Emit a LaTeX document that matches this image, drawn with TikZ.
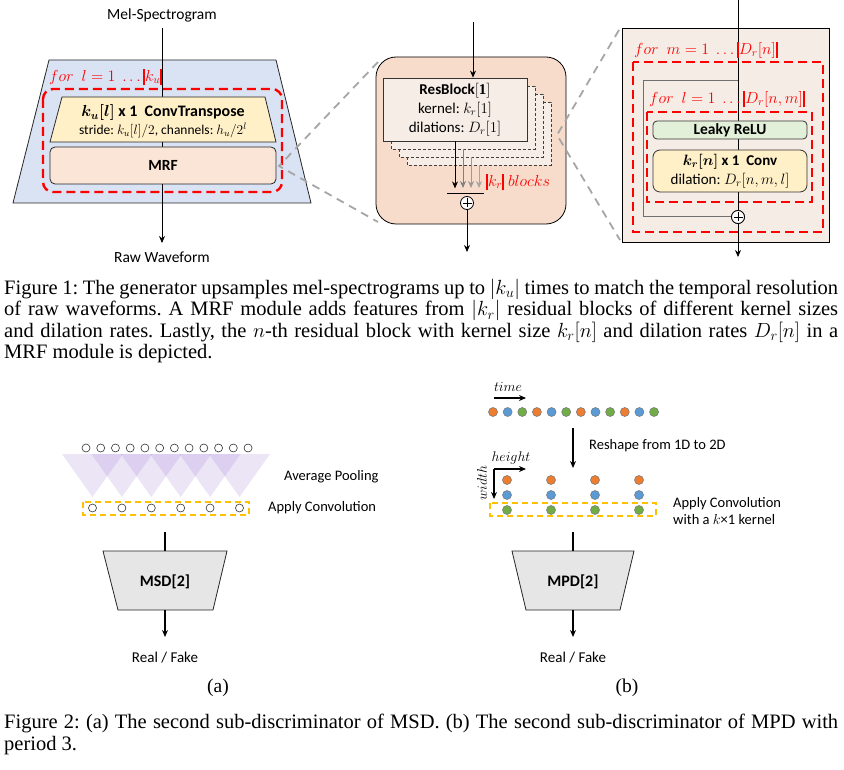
\RequirePackage{fix-cm}
\documentclass[tikz,border=0pt]{standalone}
\usepackage{amsmath}
\usepackage{fontspec}
\setmainfont{Liberation Serif}
\newfontfamily\calfont{Carlito}
\usetikzlibrary{arrows.meta}
\definecolor{gblue}{HTML}{DAE3F3}
\definecolor{gyel}{HTML}{FFF0C8}
\definecolor{gpeach}{HTML}{FBE5D6}
\definecolor{mrfbg}{HTML}{F8DCCB}
\definecolor{rbfill}{HTML}{F7EDE7}
\definecolor{panelbg}{HTML}{F6ECE6}
\definecolor{ggreen}{HTML}{E2F0D9}
\definecolor{gred}{HTML}{FF0000}
\definecolor{ggray}{HTML}{A6A6A6}
\definecolor{skipgray}{HTML}{6F6F6F}
\definecolor{discgray}{HTML}{E7E6E6}
\definecolor{dorange}{HTML}{ED7D31}
\definecolor{dblue}{HTML}{5B9BD5}
\definecolor{dgreen}{HTML}{70AD47}
\definecolor{convy}{HTML}{FFC000}
\definecolor{pool}{HTML}{9670D2}
\newcommand\rbar{\rule[-0.27em]{0.12em}{1.05em}}
\frenchspacing
\begin{document}
\begin{tikzpicture}[x=1pt,y=-1pt,
  lbl/.style={font=\calfont\fontsize{15.5}{19}\selectfont, inner sep=0pt},
  lbls/.style={font=\calfont\fontsize{14.5}{17}\selectfont, inner sep=0pt},
  arr/.style={-{Stealth[length=7pt,width=6pt]}, line width=0.8pt},
  ln/.style={line width=0.8pt},
  reddash/.style={draw=gred, line width=2.4pt, dash pattern=on 9pt off 5pt},
  graydash/.style={draw=ggray, line width=1.8pt, dash pattern=on 8pt off 6pt},
  redtxt/.style={text=gred, font=\fontsize{16}{18}\selectfont, inner sep=0pt},
  ybox/.style={draw=convy, line width=1.4pt, dash pattern=on 6pt off 4pt},
  oplus/.style={circle, draw, fill=white, line width=0.8pt, minimum size=13pt, inner sep=0pt,
    path picture={\draw[line width=0.8pt] ([xshift=-4.5pt]path picture bounding box.center) -- ([xshift=4.5pt]path picture bounding box.center) ([yshift=-4.5pt]path picture bounding box.center) -- ([yshift=4.5pt]path picture bounding box.center);}},
  odot/.style={circle, draw=black!80, line width=0.6pt, minimum size=8pt, inner sep=0pt, fill=white},
  cdot/.style={circle, draw=black!55, line width=0.5pt, minimum size=9pt, inner sep=0pt, fill=#1},
  captxt/.style={font=\fontsize{20.5}{21.4}\selectfont, text width=834pt, align=justify, inner sep=0pt},
  shadowbox/.style={draw=black!75, fill=rbfill, line width=0.7pt, dash pattern=on 3pt off 2pt},
]
\useasboundingbox (0,0) rectangle (844,770);
\fill[white] (0,0) rectangle (844,770);

% ================= Generator (left) =================
\filldraw[fill=gblue, draw=black!85, ln] (49,60) -- (276,60) -- (311,203) -- (13,203) -- cycle;
\node[lbl] (mel) at (162,15) {Mel-Spectrogram};
\coordinate (genin) at (162,28);
\coordinate (genout) at (162,243);
\draw[arr] (genin) -- (genout);
\node[lbl] (raw) at (162,257) {Raw Waveform};
\node[redtxt, anchor=west] (forl) at (49,77) {$for\ \ l=1\ \ldots\rbar k_u\rbar$};
\draw[reddash, rounded corners=10pt] (43,89) rectangle (282,192);
\filldraw[fill=gyel, draw=black!85, ln] (62,97) -- (265,97) -- (276,142) -- (50,142) -- cycle;
\node[lbl, font=\calfont\fontsize{16}{19}\selectfont] (convt) at (163,113) {$\boldsymbol{k_u[l]}$ \textbf{x 1\ \ ConvTranspose}};
\node[lbl, font=\calfont\fontsize{13.5}{16}\selectfont] (stride) at (163,130) {stride: $k_u[l]/2$, channels: $h_u/2^l$};
\node[draw=black!85, fill=gpeach, ln, rounded corners=5pt, minimum width=226pt, minimum height=37pt, lbl] (mrf) at (163,165.5) {\textbf{MRF}};

% zoom lines to MRF panel
\coordinate (zoomA) at (279,166);
\coordinate (zoomA1) at (378,62);
\coordinate (zoomA2) at (378,222);
\draw[graydash] (zoomA1) -- (zoomA) -- (zoomA2);

% ================= MRF panel (middle) =================
\node[draw, fill=mrfbg, ln, rounded corners=20pt, minimum width=190pt, minimum height=167pt] (mrfpanel) at (471,140.5) {};
\coordinate (zoomB) at (557,135);
\coordinate (zoomB1) at (619,30);
\coordinate (zoomB2) at (620,240);
\draw[graydash] (zoomB1) -- (zoomB) -- (zoomB2);

\foreach \k in {3,2,1}{
  \draw[shadowbox] (383+8*\k,78+8*\k) rectangle (527+8*\k,141+8*\k);
}
\node[draw=black!80, fill=rbfill, ln, minimum width=144pt, minimum height=63pt, align=center,
      font=\calfont\fontsize{15}{19}\selectfont, inner sep=0pt] (rb) at (455,109.5)
  {\textbf{ResBlock}$[\mathbf{1}]$\\kernel: $k_r[1]$\\dilations: $D_r[1]$};
\coordinate (mrfin) at (473,22);
\draw[arr] (mrfin) -- (mrfin |- rb.north);
\coordinate (rb2b) at (463,149);
\coordinate (rb3b) at (471,157);
\coordinate (rb4b) at (479,165);
\draw[arr] (rb.south) -- ++(0,47);
\draw[arr, draw=black!50] (rb2b) -- (463,188);
\draw[arr, draw=black!40] (rb3b) -- (471,188);
\draw[arr, draw=black!35] (rb4b) -- (479,188);
\draw[ln] (447,193) -- (484,193);
\node[oplus] (sum1) at (467,203) {};
\coordinate (mrfout) at (467,252);
\draw[arr] (sum1.south) -- (mrfout);
\node[redtxt, anchor=west] (krb) at (486,182) {$\rbar k_r\rbar\ blocks$};

% ================= ResBlock panel (right) =================
\node[draw, fill=panelbg, ln, minimum width=207pt, minimum height=214pt] (rbpanel) at (725.5,135) {};
\coordinate (rbin) at (738,0);
\coordinate (rbout) at (738,257);
\draw[arr] (rbin) -- (rbout);
\node[redtxt, anchor=west] (form) at (634,50) {$for\ \ m=1\ \ldots\rbar D_r[n]\rbar$};
\draw[reddash] (633,62) rectangle (823,232);
\node[oplus] (sum2) at (738,217) {};
\coordinate (skipstart) at (738,81);
\draw[draw=skipgray, line width=1pt] (skipstart) -| (643,217) -- (sum2.west);
\node[redtxt, anchor=west] (forl2) at (649,99) {$for\ \ l=1\ \ldots\rbar D_r[n,m]\rbar$};
\draw[reddash] (647,112) rectangle (812,202);
\node[draw=black!80, fill=ggreen, ln, rounded corners=4pt, minimum width=154pt, minimum height=18pt, lbl] (lrelu) at (730,130) {\textbf{Leaky ReLU}};
\node[draw=black!80, fill=gyel, ln, rounded corners=7pt, minimum width=154pt, minimum height=42pt, align=center, font=\calfont\fontsize{15}{19}\selectfont, inner sep=0pt] (conv) at (730,171)
  {$\boldsymbol{k_r[n]}$ \textbf{x 1\ \ Conv}\\dilation: $D_r[n,m,l]$};
\node[oplus] (sum2b) at (738,217) {};

% ================= Caption 1 =================
\node[captxt, anchor=north west] (cap1) at (4,279) {Figure 1: The generator upsamples mel-spectrograms up to $|k_u|$ times to match the temporal resolution\linebreak of raw waveforms. A MRF module adds features from $|k_r|$ residual blocks of different kernel sizes\linebreak and dilation rates. Lastly, the $n$-th residual block with kernel size $k_r[n]$ and dilation rates $D_r[n]$ in a\linebreak MRF module is depicted.};

% ================= MSD (bottom left) =================
\foreach \j in {0,...,5}{
  \fill[pool, opacity=0.18] (62+29.4*\j,454) -- (123+29.4*\j,454) -- (92.5+29.4*\j,497) -- cycle;
}
\foreach \i in {0,...,11}{
  \node[odot] (in\i) at (86+14.73*\i,448) {};
}
\foreach \j in {0,...,5}{
  \node[odot] (out\j) at (92.5+29.4*\j,508) {};
}
\draw[ybox] (83,502) rectangle (249,515);
\node[lbls, anchor=west] (avgp) at (284,477) {Average Pooling};
\node[lbls, anchor=west] (applyc) at (268,508) {Apply Convolution};
\coordinate (msdin) at (165,532);
\coordinate (msdtop) at (165,551);
\filldraw[fill=discgray, draw=black!85, ln] (103,551) -- (227,551) -- (213,610) -- (118,610) -- cycle;
\node[lbl, font=\calfont\bfseries\fontsize{16}{19}\selectfont] (msd) at (165,582) {MSD[2]};
\coordinate (msdbot) at (165,610);
\coordinate (msdout) at (165,637);
\draw[line width=1.3pt] (msdin) -- (msdtop);
\draw[arr, line width=1.3pt] (msdbot) -- (msdout);
\node[lbls, font=\calfont\fontsize{15}{18}\selectfont] (rfa) at (165,658) {Real / Fake};
\node[font=\fontsize{19.5}{22}\selectfont, inner sep=0pt] (suba) at (218,688) {(a)};

% ================= MPD (bottom right) =================
\node[font=\fontsize{14}{16}\selectfont, inner sep=0pt] (time) at (508,387) {$time$};
\coordinate (timeA) at (494,398);
\coordinate (timeB) at (526,398);
\draw[arr, line width=1.1pt] (timeA) -- (timeB);
\foreach \i/\c in {0/dorange,1/dblue,2/dgreen,3/dorange,4/dblue,5/dgreen,6/dorange,7/dblue,8/dgreen,9/dorange,10/dblue,11/dgreen}{
  \node[cdot=\c] (s\i) at (493+14.64*\i,412) {};
}
\coordinate (reshA) at (573,428);
\coordinate (reshB) at (573,468);
\draw[arr, line width=1.6pt] (reshA) -- (reshB);
\node[lbls, anchor=west] (resh) at (589,446) {Reshape from 1D to 2D};
\node[font=\fontsize{14}{16}\selectfont, inner sep=0pt] (height) at (511,458) {$height$};
\coordinate (hwO) at (494,469);
\coordinate (hwH) at (526,469);
\coordinate (hwW) at (494,499);
\draw[arr, line width=1.1pt] (hwO) -- (hwH);
\draw[arr, line width=1.1pt] (hwO) -- (hwW);
\node[font=\fontsize{14}{16}\selectfont, inner sep=0pt, rotate=90] (width) at (482,483) {$width$};
\foreach \x [count=\n] in {507,551,595,639}{
  \node[cdot=dorange] (r1c\n) at (\x,480) {};
  \node[cdot=dblue] (r2c\n) at (\x,495) {};
  \node[cdot=dgreen] (r3c\n) at (\x,510) {};
}
\draw[ybox] (490,503) rectangle (656,516);
\node[lbls, anchor=west, align=left] (applyk) at (673,511) {Apply Convolution\\with a $k$×1 kernel};
\coordinate (mpdin) at (573,532);
\coordinate (mpdtop) at (573,551);
\filldraw[fill=discgray, draw=black!85, ln] (512,551) -- (634,551) -- (620,610) -- (526,610) -- cycle;
\node[lbl, font=\calfont\bfseries\fontsize{16}{19}\selectfont] (mpd) at (573,582) {MPD[2]};
\coordinate (mpdbot) at (573,610);
\coordinate (mpdout) at (573,637);
\draw[line width=1.3pt] (mpdin) -- (mpdtop);
\draw[arr, line width=1.3pt] (mpdbot) -- (mpdout);
\node[lbls, font=\calfont\fontsize{15}{18}\selectfont] (rfb) at (573,658) {Real / Fake};
\node[font=\fontsize{19.5}{22}\selectfont, inner sep=0pt] (subb) at (627,688) {(b)};

% ================= Caption 2 =================
\node[captxt, anchor=north west] (cap2) at (4,714) {Figure 2: (a) The second sub-discriminator of MSD. (b) The second sub-discriminator of MPD with\linebreak period 3.};
\end{tikzpicture}
\end{document}
